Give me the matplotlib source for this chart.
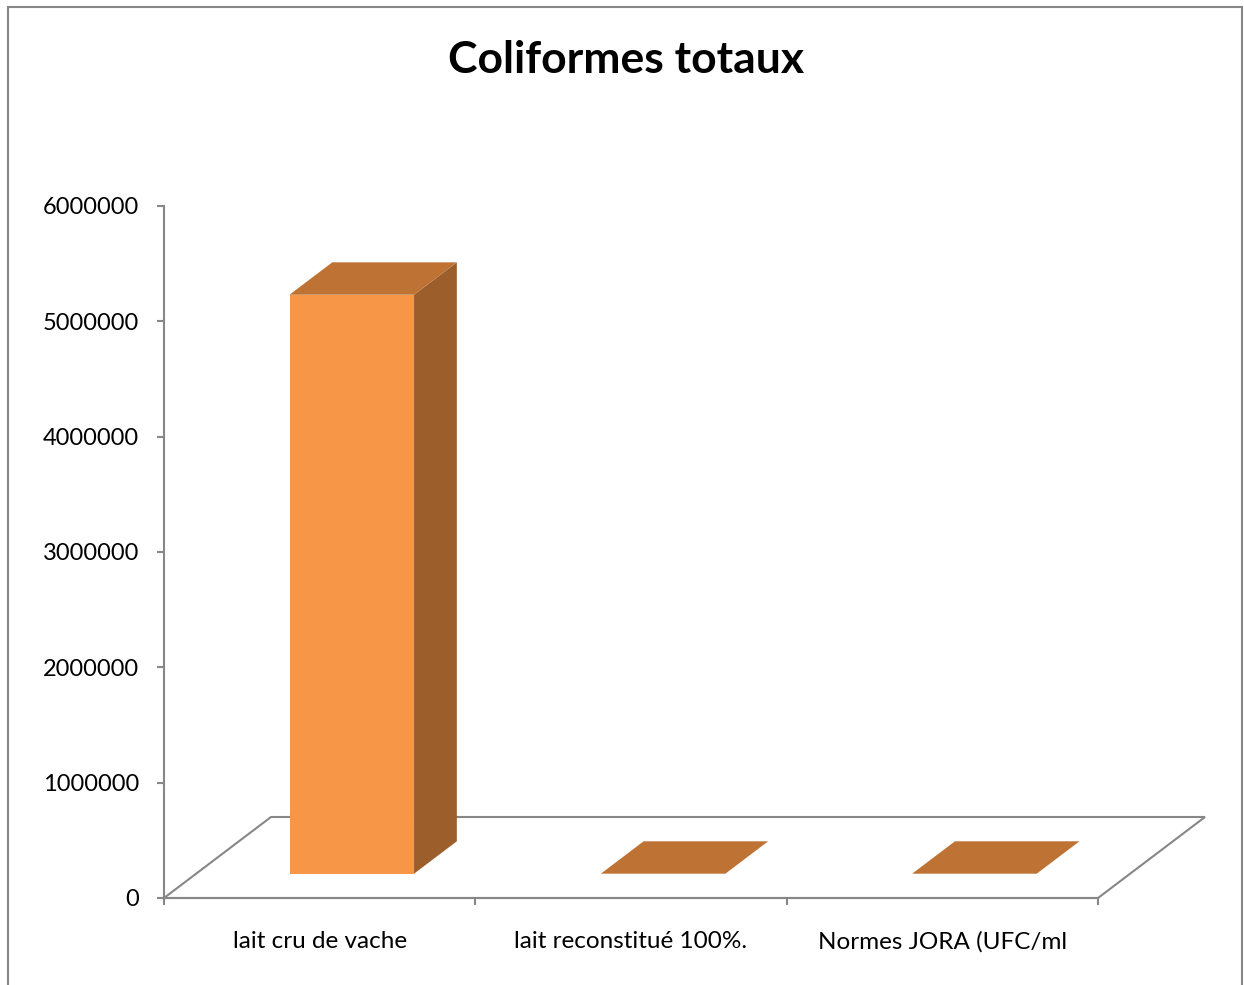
import matplotlib.pyplot as plt
from matplotlib.patches import Polygon, Rectangle

plt.rcParams['font.family'] = ['Lato', 'DejaVu Sans']

# Coliformes totaux per sample
categories = ['lait cru de vache', 'lait reconstitué 100%.', 'Normes JORA (UFC/ml']
values = [5020000, 0, 10]
yticks = [0, 1000000, 2000000, 3000000, 4000000, 5000000, 6000000]

front_col = '#F79646'
top_col = '#BE7234'
side_col = '#9C5F2C'
grid_col = '#878787'

fig = plt.figure(figsize=(12.44, 9.85), dpi=100)
ax = fig.add_axes([164 / 1244, 87 / 985, 934 / 1244, 692 / 985])
ax.set_xlim(0, 3)
ax.set_ylim(0, 6000000)

# depth of the floor, in data units
DX = 107 / 311.33
DY = 81 / 115.33 * 1e6

# floor outline
floor = [(0, 0), (3, 0), (3 + DX, DY), (DX, DY), (0, 0)]
ax.plot([p[0] for p in floor], [p[1] for p in floor], color=grid_col, lw=1.5,
        clip_on=False, zorder=1, solid_joinstyle='miter')

# pseudo 3D bars: front, side and top faces
w = 0.4
d0, d1 = 0.3, 0.7
for i, v in enumerate(values):
    x0 = i + 0.5 - w / 2 + d0 * DX
    x1 = x0 + w
    y0 = d0 * DY
    y1 = y0 + v
    ddx = (d1 - d0) * DX
    ddy = (d1 - d0) * DY
    front = Polygon([(x0, y0), (x1, y0), (x1, y1), (x0, y1)], closed=True,
                    facecolor=front_col, edgecolor='none', clip_on=False, zorder=3)
    side = Polygon([(x1, y0), (x1 + ddx, y0 + ddy), (x1 + ddx, y1 + ddy), (x1, y1)],
                   closed=True, facecolor=side_col, edgecolor='none', clip_on=False, zorder=3)
    top = Polygon([(x0, y1), (x1, y1), (x1 + ddx, y1 + ddy), (x0 + ddx, y1 + ddy)],
                  closed=True, facecolor=top_col, edgecolor='none', clip_on=False, zorder=4)
    for p in (front, side, top):
        ax.add_patch(p)

# axes styling
for s in ('top', 'right'):
    ax.spines[s].set_visible(False)
for s in ('left', 'bottom'):
    ax.spines[s].set_color(grid_col)
    ax.spines[s].set_linewidth(1.5)
    ax.spines[s].set_zorder(2)

ax.set_yticks(yticks)
ax.set_yticklabels([str(t) for t in yticks])
ax.tick_params(axis='y', direction='out', length=5, width=1.5, color=grid_col,
               labelsize=17, pad=13)
ax.set_xticks([0, 1, 2, 3])
ax.set_xticklabels([])
ax.tick_params(axis='x', which='major', direction='out', length=5, width=1.5, color=grid_col)
ax.set_xticks([0.5, 1.5, 2.5], minor=True)
ax.set_xticklabels(categories, minor=True)
ax.tick_params(axis='x', which='minor', length=0, labelsize=17.5, pad=24)
ax.patch.set_visible(False)

fig.text(626 / 1244, 1 - 60 / 985, 'Coliformes totaux', ha='center', va='center',
         fontsize=32, fontweight='bold')

# chart border
fig.patches.append(Rectangle((8 / 1244, -0.05), 1234 / 1244, 1.05 - 7 / 985,
                             transform=fig.transFigure, fill=False,
                             edgecolor=grid_col, lw=1.5))

fig.savefig('out.png', dpi=100)
